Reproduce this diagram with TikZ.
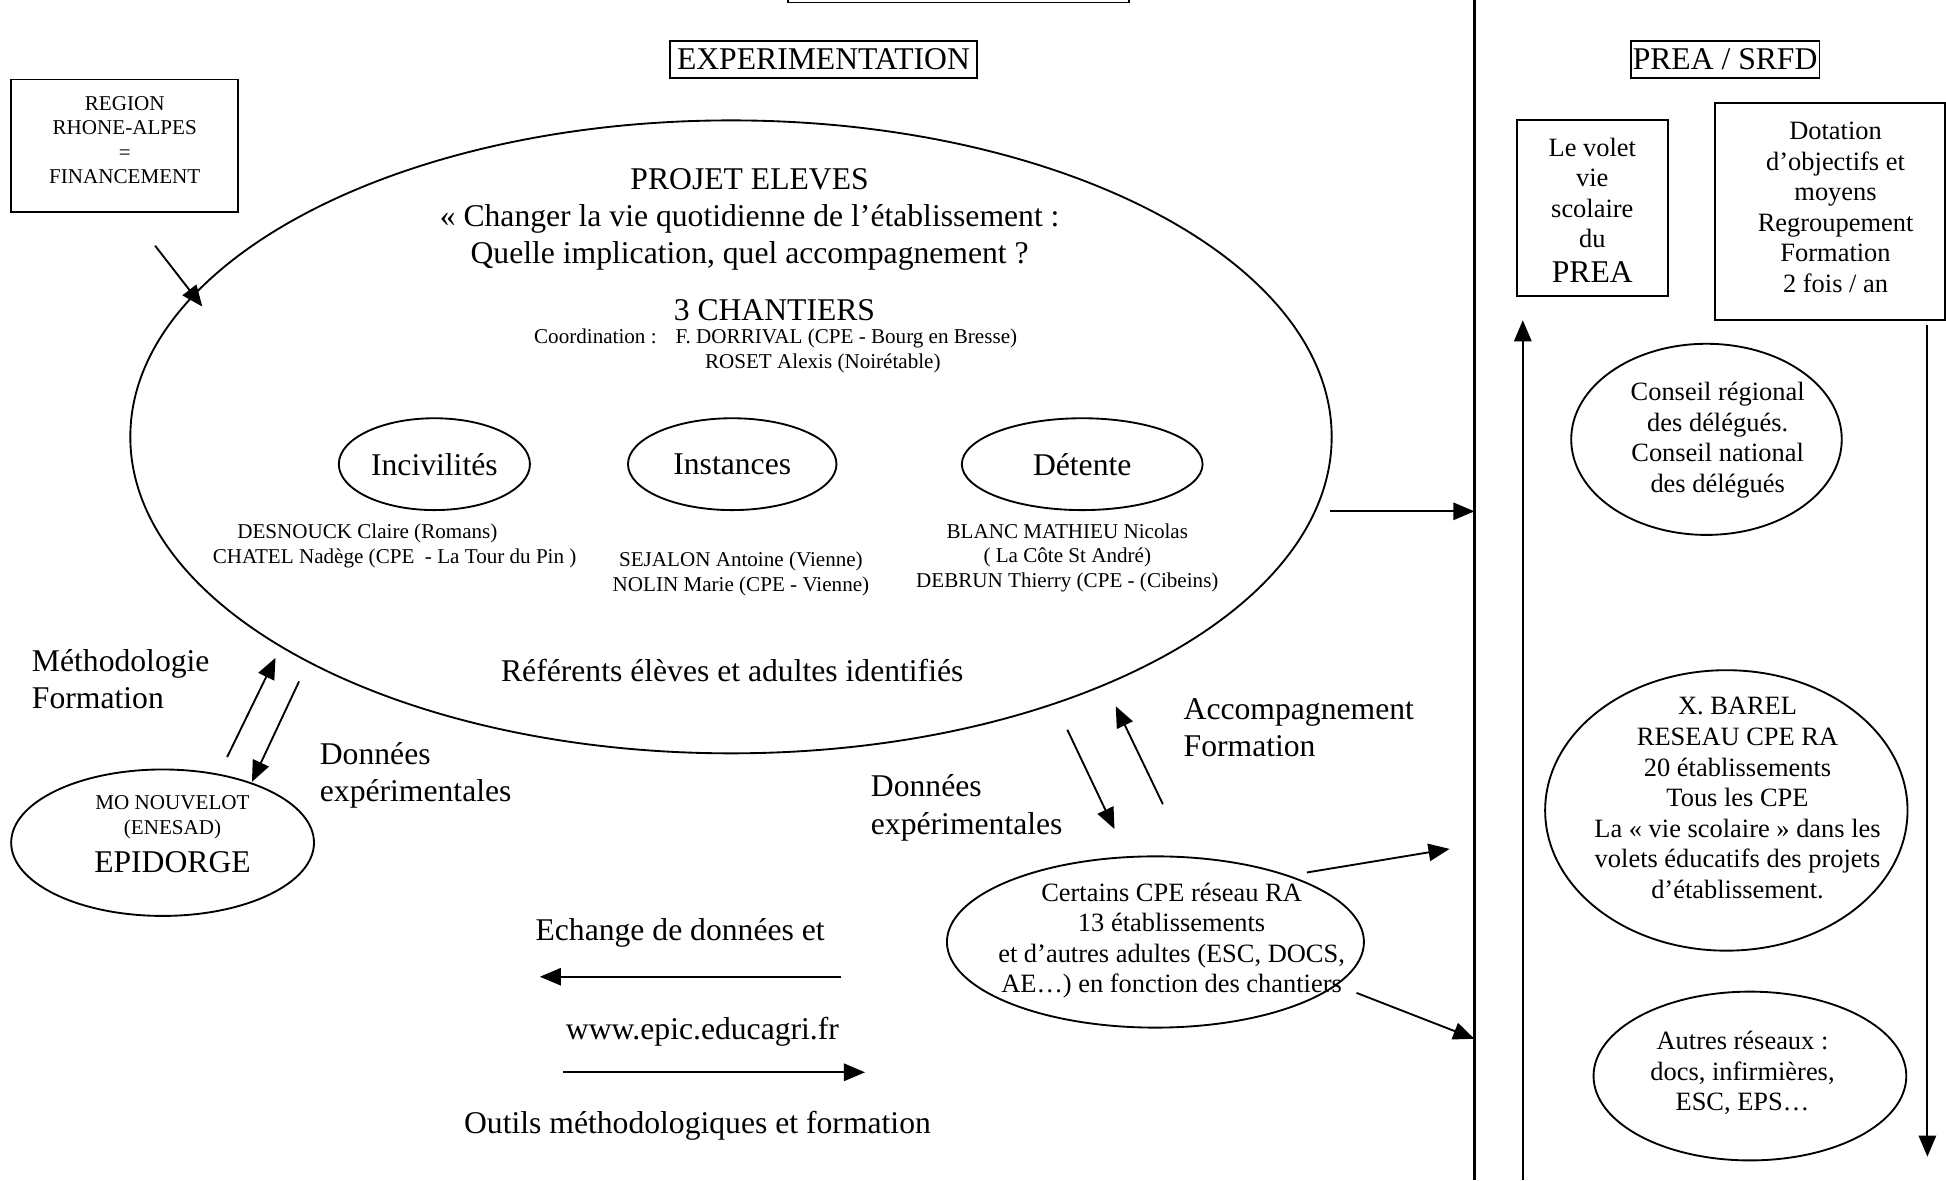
\documentclass[tikz,border=0pt]{standalone}
\usepackage{fontspec}
\setmainfont{Liberation Serif}
\usetikzlibrary{arrows.meta,shapes.geometric}
\newcommand{\FontL}{\fontsize{25.5}{30}\selectfont}
\newcommand{\FontM}{\fontsize{21.3}{24.6}\selectfont}
\newcommand{\FontS}{\fontsize{17}{19.6}\selectfont}
\begin{document}
\begin{tikzpicture}[x=1pt,y=-1pt, line width=1.5pt,
  tL/.style={font=\FontL, inner sep=0pt, align=center},
  tM/.style={font=\FontM, inner sep=0pt, align=center},
  tS/.style={font=\FontS, inner sep=0pt, align=center},
  arr/.style={-{Triangle[length=17pt,width=14pt]}, line width=1.5pt},
  ellp/.style={draw, ellipse, inner sep=0pt, line width=1.5pt},
  boxd/.style={draw, rectangle, inner sep=0pt, line width=1.5pt},
]
\useasboundingbox (0,0) rectangle (1568,951);

% partial top box
\draw (635,-3) -- (635,2) -- (910,2) -- (910,-3);

% headers
\node[boxd, tL, minimum width=247pt, minimum height=30pt] (exp) at (663.5,48) {EXPERIMENTATION};
\node[boxd, tL, minimum width=152pt, minimum height=30pt] (prea) at (1390,48) {PREA / SRFD};

% divider
\draw[line width=1.8pt] (1188,0) -- (1188,951);

% region box
\node[boxd, minimum width=183pt, minimum height=107pt] (region) at (100.5,117.5) {};
\node[tS] (regiontxt) at (100.5,113) {REGION\\RHONE-ALPES\\=\\FINANCEMENT};

% main ellipse
\node[ellp, minimum width=968pt, minimum height=510pt] (main) at (589,352) {};
\node[tL] (title) at (604,177) {PROJET ELEVES\\« Changer la vie quotidienne de l’établissement :\\Quelle implication, quel accompagnement ?};
\node[tL] (chant) at (624,250) {3 CHANTIERS};
\node[tS] (coord) at (625,273) {Coordination :\hspace{0.9em}F. DORRIVAL (CPE - Bourg en Bresse)};
\node[tS] (roset) at (663,293) {ROSET Alexis (Noirétable)};

\node[ellp, tL, minimum width=154pt, minimum height=74pt] (inc) at (350,374) {Incivilités};
\node[ellp, tL, minimum width=168pt, minimum height=74pt] (ins) at (590,374) {Instances};
\node[ellp, tL, minimum width=194pt, minimum height=74pt] (det) at (872,374) {Détente};

\node[tS] (n1) at (296,430) {DESNOUCK Claire (Romans)};
\node[tS] (n2) at (318,450) {CHATEL Nadège (CPE\hspace{0.5em}- La Tour du Pin )};
\node[tS] (n3) at (597,462.5) {SEJALON Antoine (Vienne)\\NOLIN Marie (CPE - Vienne)};
\node[tS] (n4) at (860,449.5) {BLANC MATHIEU Nicolas\\( La Côte St André)\\DEBRUN Thierry (CPE - (Cibeins)};

\node[tL] (refs) at (590,540) {Référents élèves et adultes identifiés};

% left side
\node[tL, align=left, anchor=west] (methodo) at (25,547) {Méthodologie\\Formation};
\node[tL, align=left, anchor=west] (don1) at (257,624.5) {Données\\expérimentales};
\node[ellp, minimum width=244pt, minimum height=118pt] (epi) at (131,679) {};
\node[tS] (epi1) at (139,658.5) {MO NOUVELOT\\(ENESAD)};
\node[tL] (epi2) at (139,695) {EPIDORGE};

% middle bottom
\node[tL, align=left, anchor=west] (accomp) at (953,586.5) {Accompagnement\\Formation};
\node[tL, align=left, anchor=west] (don2) at (701,651) {Données\\expérimentales};
\node[ellp, minimum width=336pt, minimum height=138pt] (cert) at (931,759) {};
\node[tM] (certtxt) at (944,758) {Certains CPE réseau RA\\13 établissements\\et d’autres adultes (ESC, DOCS,\\AE…) en fonction des chantiers};

\node[tL] (ech) at (548,752) {Echange de données et};
\node[tL] (www) at (566,831) {www.epic.educagri.fr};
\node[tL] (outils) at (562,907) {Outils méthodologiques et formation};

% right column
\node[boxd, minimum width=122pt, minimum height=141.5pt] (volet) at (1283,167.75) {};
\node[tM] (volet1) at (1283,155.5) {Le volet\\vie\\scolaire\\du};
\node[tL] (volet2) at (1283,219) {PREA};
\node[boxd, minimum width=185pt, minimum height=175pt] (dot) at (1474.5,170.5) {};
\node[tM] (dottxt) at (1479,167) {Dotation\\d’objectifs et\\moyens\\Regroupement\\Formation\\2 fois / an};
\node[ellp, minimum width=218pt, minimum height=154pt] (cons) at (1375,354) {};
\node[tM] (constxt) at (1384,354.5) {Conseil régional\\des délégués.\\Conseil national\\des délégués};
\node[ellp, minimum width=292pt, minimum height=226pt] (barel) at (1391,653) {};
\node[tM] (bareltxt) at (1400,643) {X. BAREL\\RESEAU CPE RA\\20 établissements\\Tous les CPE\\La « vie scolaire » dans les\\volets éducatifs des projets\\d’établissement.};
\node[ellp, minimum width=252pt, minimum height=136pt] (autres) at (1410,867) {};
\node[tM] (autrestxt) at (1404,864.5) {Autres réseaux :\\docs, infirmières,\\ESC, EPS…};

% connector end points
\coordinate (a1s) at (125,198);   \coordinate (a1e) at (163,247);
\coordinate (a2s) at (1072,412);  \coordinate (a2e) at (1188,412);
\coordinate (a3s) at (183,610);   \coordinate (a3e) at (222,530);
\coordinate (a4s) at (241,549);   \coordinate (a4e) at (203,630);
\coordinate (a5s) at (860,588);   \coordinate (a5e) at (898,668);
\coordinate (a6s) at (937,648);   \coordinate (a6e) at (899,569);
\coordinate (a7s) at (1053,703);  \coordinate (a7e) at (1168,684);
\coordinate (a8s) at (1093,800);  \coordinate (a8e) at (1188,837);
\coordinate (a9s) at (678,787);   \coordinate (a9e) at (435,787);
\coordinate (a10s) at (454,864);  \coordinate (a10e) at (697,864);
\coordinate (a11s) at (1227,951); \coordinate (a11e) at (1227,258);
\coordinate (a12s) at (1553,262); \coordinate (a12e) at (1553,932);

\draw[arr] (a1s) -- (a1e);
\draw[arr] (a2s) -- (a2e);
\draw[arr] (a3s) -- (a3e);
\draw[arr] (a4s) -- (a4e);
\draw[arr] (a5s) -- (a5e);
\draw[arr] (a6s) -- (a6e);
\draw[arr] (a7s) -- (a7e);
\draw[arr] (a8s) -- (a8e);
\draw[arr] (a9s) -- (a9e);
\draw[arr] (a10s) -- (a10e);
\draw[arr] (a11s) -- (a11e);
\draw[arr] (a12s) -- (a12e);
\end{tikzpicture}
\end{document}
